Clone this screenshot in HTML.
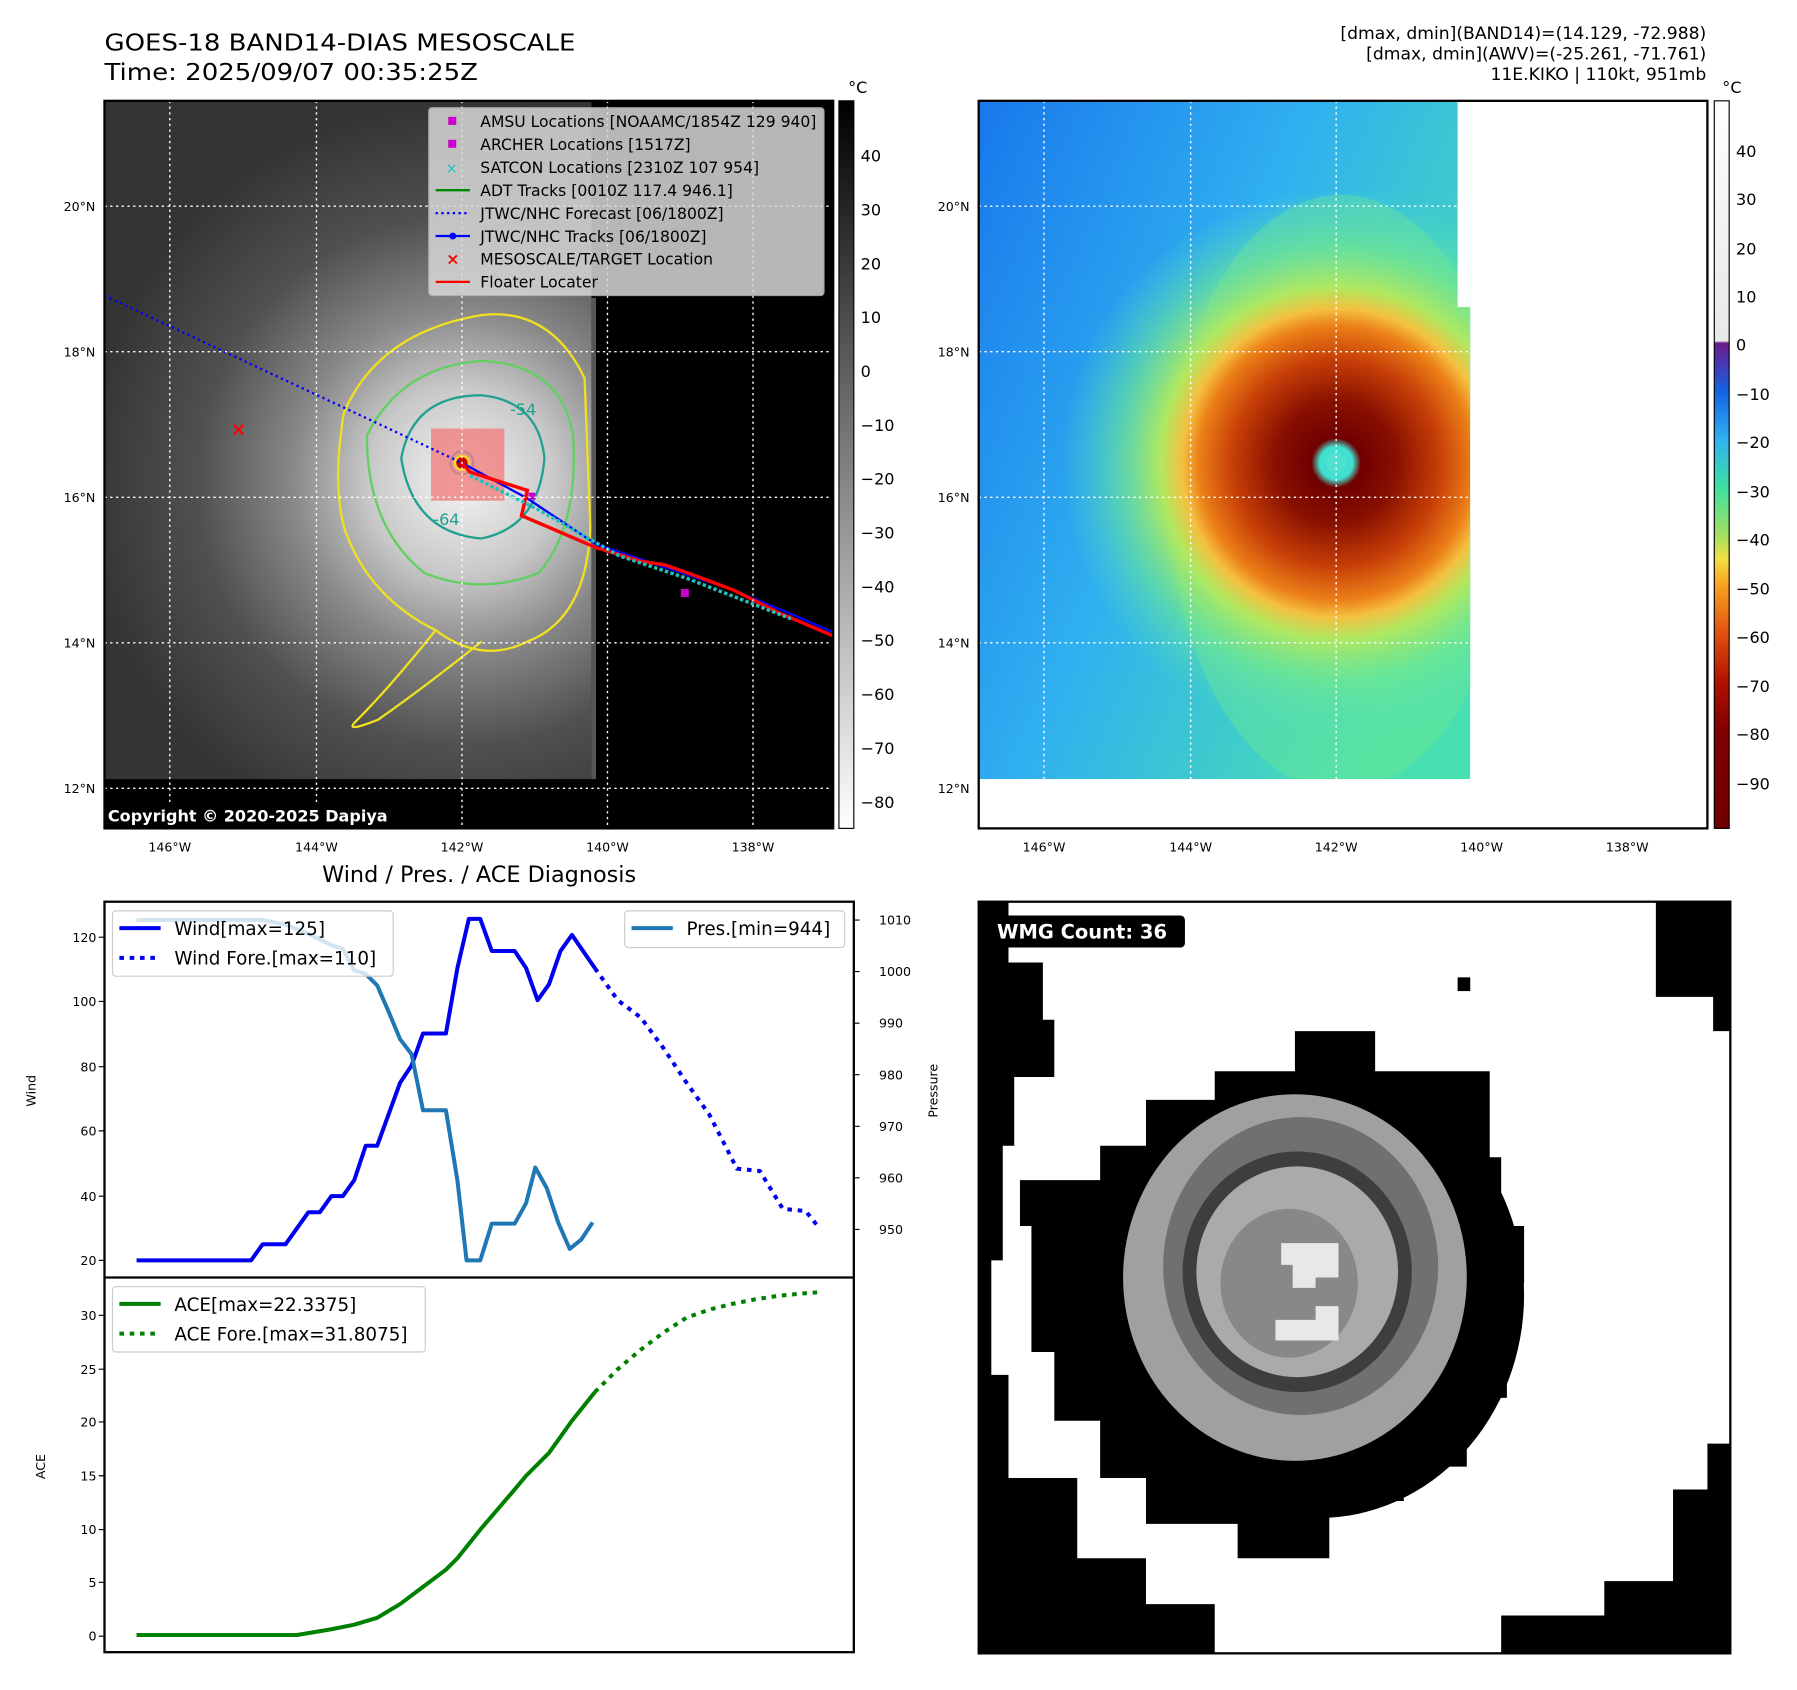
<!DOCTYPE html>
<html><head><meta charset="utf-8"><style>
html,body{margin:0;padding:0;background:#fff}
svg{display:block}
text{font-family:"DejaVu Sans","Liberation Sans",sans-serif}
</style></head><body>
<svg width="1797" height="1690" viewBox="0 0 1568 1475" xmlns="http://www.w3.org/2000/svg">
<defs>
<linearGradient id="cb1" x1="0" y1="0" x2="0" y2="1"><stop offset="0" stop-color="#000"/><stop offset="1" stop-color="#fff"/></linearGradient>
<linearGradient id="cb2" x1="0" y1="0" x2="0" y2="1">
<stop offset="0" stop-color="#fff"/><stop offset="0.33" stop-color="#e8e8e8"/>
<stop offset="0.333" stop-color="#6a1a8a"/><stop offset="0.4" stop-color="#1464e6"/>
<stop offset="0.467" stop-color="#30b4f0"/><stop offset="0.533" stop-color="#40e0a0"/>
<stop offset="0.6" stop-color="#a8e060"/><stop offset="0.63" stop-color="#f4e040"/>
<stop offset="0.667" stop-color="#f8a020"/><stop offset="0.733" stop-color="#e05010"/>
<stop offset="0.8" stop-color="#b01000"/><stop offset="0.867" stop-color="#800000"/>
<stop offset="1" stop-color="#700000"/></linearGradient>
<radialGradient id="g1" cx="403" cy="420" r="330" gradientUnits="userSpaceOnUse">
<stop offset="0" stop-color="#f4f4f4"/><stop offset="0.25" stop-color="#c8c8c8"/><stop offset="0.45" stop-color="#888"/><stop offset="0.7" stop-color="#505050"/><stop offset="1" stop-color="#343434"/></radialGradient>
<linearGradient id="bg2" x1="0" y1="0" x2="1" y2="0.6"><stop offset="0" stop-color="#1878ec"/><stop offset="0.5" stop-color="#30b0f0"/><stop offset="1" stop-color="#48e0b0"/></linearGradient>
<radialGradient id="g2" cx="1166" cy="404" r="240" gradientUnits="userSpaceOnUse">
<stop offset="0" stop-color="#40e0d0"/><stop offset="0.06" stop-color="#40e0d0"/><stop offset="0.09" stop-color="#700000"/>
<stop offset="0.22" stop-color="#881000"/><stop offset="0.38" stop-color="#c84008"/><stop offset="0.5" stop-color="#ec8018"/>
<stop offset="0.56" stop-color="#f4c040"/><stop offset="0.64" stop-color="#b0e860"/><stop offset="0.8" stop-color="#70e890" stop-opacity="0.6"/><stop offset="1" stop-color="#50e0c0" stop-opacity="0"/></radialGradient>
<clipPath id="c1"><rect x="91" y="88" width="636" height="635"/></clipPath>
<clipPath id="c2"><rect x="854" y="88" width="429" height="592"/></clipPath>
</defs>

<text x="91" y="44" font-size="20" textLength="411" lengthAdjust="spacingAndGlyphs">GOES-18 BAND14-DIAS MESOSCALE</text>
<text x="91" y="70" font-size="20" textLength="326" lengthAdjust="spacingAndGlyphs">Time: 2025/09/07 00:35:25Z</text>
<text x="1489" y="34" font-size="15" text-anchor="end">[dmax, dmin](BAND14)=(14.129, -72.988)</text>
<text x="1489" y="52" font-size="15" text-anchor="end">[dmax, dmin](AWV)=(-25.261, -71.761)</text>
<text x="1489" y="70" font-size="15" text-anchor="end">11E.KIKO | 110kt, 951mb</text>

<!-- MAP 1 -->
<g clip-path="url(#c1)">
<rect x="91" y="88" width="636" height="635" fill="#000"/>
<rect x="91" y="88" width="425" height="592" fill="url(#g1)"/>
<rect x="516" y="260" width="4" height="420" fill="#555"/>
<g fill="none" stroke-width="2">
<path d="M300,360 Q330,290 420,275 Q480,268 510,330 L515,460 Q512,540 460,560 Q420,580 380,550 Q320,520 300,460 Q290,420 300,360Z" stroke="#f0e020"/>
<path d="M380,550 Q340,600 310,630 Q300,640 330,628 Q370,600 420,560" stroke="#f0e020"/>
<path d="M320,380 Q350,320 420,315 Q490,318 500,380 Q505,460 470,500 Q420,520 370,500 Q320,460 320,380Z" stroke="#60d060"/>
<path d="M350,400 Q360,345 420,345 Q470,350 475,400 Q470,460 420,470 Q360,465 350,400Z" stroke="#20a090"/>
<circle cx="403" cy="404" r="10" stroke="#20a0a0"/>
</g>
<rect x="376" y="374" width="64" height="63" fill="#f08080" opacity="0.8"/>
<circle cx="403" cy="404" r="6" fill="#c00" stroke="#f0e020" stroke-width="2"/>
<text x="445" y="362" font-size="14" fill="#20a090">-54</text>
<text x="378" y="458" font-size="14" fill="#20a090">-64</text>
<path d="M91,258 L403,404" stroke="#00f" stroke-width="2" stroke-dasharray="2,3" fill="none"/>
<path d="M403,404 L460,435 L520,475 L580,495 L640,515 L700,540 L727,552" stroke="#00f" stroke-width="2" fill="none"/>
<path d="M403,404 L410,412 L460,428 L455,450 L490,465 L520,478 L560,490 L580,493 L600,500 L640,515 L680,535 L727,555" stroke="#f00" stroke-width="3" fill="none"/>
<path d="M410,415 L470,445 L540,485 L600,505 L690,540" stroke="#20c0c0" stroke-width="3" fill="none" stroke-dasharray="3,2"/>
<rect x="594" y="514" width="7" height="7" fill="#c0c"/>
<rect x="461" y="430" width="6" height="6" fill="#c0c"/>
<text x="208" y="380" font-size="16" fill="#f00" text-anchor="middle" font-weight="bold">×</text>
<g stroke="#fff" stroke-width="1.2" stroke-dasharray="2,3">
<path d="M148,88V723M276,88V723M403,88V723M530,88V723M657,88V723"/>
<path d="M91,180H727M91,307H727M91,434H727M91,561H727M91,688H727"/>
</g>
<rect x="91" y="700" width="270" height="23" fill="#000"/>
<text x="94" y="717" font-size="14" fill="#fff" font-weight="bold">Copyright © 2020-2025 Dapiya</text>
<rect x="374" y="94" width="345" height="164" fill="#d8d8d8" opacity="0.85" stroke="#bbb" rx="3"/>
<g font-size="13.6">
<rect x="391" y="102" width="7" height="7" fill="#c0c"/><text x="419" y="111">AMSU Locations [NOAAMC/1854Z 129 940]</text>
<rect x="391" y="122" width="7" height="7" fill="#c0c"/><text x="419" y="131">ARCHER Locations [1517Z]</text>
<text x="394" y="151" fill="#20c0c0" font-size="12" text-anchor="middle">×</text><text x="419" y="151">SATCON Locations [2310Z 107 954]</text>
<path d="M380,166H410" stroke="#080" stroke-width="2"/><text x="419" y="171">ADT Tracks [0010Z 117.4 946.1]</text>
<path d="M380,186H410" stroke="#00f" stroke-width="2" stroke-dasharray="2,3"/><text x="419" y="191">JTWC/NHC Forecast [06/1800Z]</text>
<path d="M380,206H410" stroke="#00f" stroke-width="2"/><circle cx="395" cy="206" r="3" fill="#00f"/><text x="419" y="211">JTWC/NHC Tracks [06/1800Z]</text>
<text x="395" y="231" fill="#f00" font-size="14" text-anchor="middle" font-weight="bold">×</text><text x="419" y="231">MESOSCALE/TARGET Location</text>
<path d="M380,246H410" stroke="#f00" stroke-width="2"/><text x="419" y="251">Floater Locater</text>
</g>
</g>
<rect x="91" y="88" width="636" height="635" fill="none" stroke="#000" stroke-width="2"/>
<rect x="732" y="88" width="13" height="635" fill="url(#cb1)" stroke="#000"/>
<text x="740" y="81" font-size="14">°C</text>
<g font-size="14"><text x="751" y="141">40</text><text x="751" y="188">30</text><text x="751" y="235">20</text><text x="751" y="282">10</text><text x="751" y="329">0</text><text x="751" y="376">−10</text><text x="751" y="423">−20</text><text x="751" y="470">−30</text><text x="751" y="517">−40</text><text x="751" y="564">−50</text><text x="751" y="611">−60</text><text x="751" y="658">−70</text><text x="751" y="705">−80</text></g>
<g font-size="11" text-anchor="end"><text x="83" y="184">20°N</text><text x="83" y="311">18°N</text><text x="83" y="438">16°N</text><text x="83" y="565">14°N</text><text x="83" y="692">12°N</text></g>
<g font-size="11" text-anchor="middle"><text x="148" y="743">146°W</text><text x="276" y="743">144°W</text><text x="403" y="743">142°W</text><text x="530" y="743">140°W</text><text x="657" y="743">138°W</text></g>

<!-- MAP 2 -->
<rect x="854" y="88" width="636" height="635" fill="#fff"/>
<g clip-path="url(#c2)">
<rect x="854" y="88" width="429" height="592" fill="url(#bg2)"/>
<ellipse cx="1170" cy="430" rx="150" ry="260" fill="#70e890" opacity="0.4"/>
<rect x="854" y="88" width="429" height="592" fill="url(#g2)"/>
<circle cx="1166" cy="404" r="9" fill="#50e0d0"/>
</g>
<rect x="1272" y="88" width="11" height="180" fill="#fff"/>
<g stroke="#fff" stroke-width="1.2" stroke-dasharray="2,3">
<path d="M911,88V723M1039,88V723M1166,88V723M1293,88V723M1420,88V723"/>
<path d="M854,180H1490M854,307H1490M854,434H1490M854,561H1490M854,688H1490"/>
</g>
<rect x="854" y="88" width="636" height="635" fill="none" stroke="#000" stroke-width="2"/>
<rect x="1496" y="88" width="13" height="635" fill="url(#cb2)" stroke="#000"/>
<text x="1503" y="81" font-size="14">°C</text>
<g font-size="14"><text x="1515" y="137">40</text><text x="1515" y="179">30</text><text x="1515" y="222">20</text><text x="1515" y="264">10</text><text x="1515" y="306">0</text><text x="1515" y="349">−10</text><text x="1515" y="391">−20</text><text x="1515" y="434">−30</text><text x="1515" y="476">−40</text><text x="1515" y="519">−50</text><text x="1515" y="561">−60</text><text x="1515" y="604">−70</text><text x="1515" y="646">−80</text><text x="1515" y="689">−90</text></g>
<g font-size="11" text-anchor="end"><text x="846" y="184">20°N</text><text x="846" y="311">18°N</text><text x="846" y="438">16°N</text><text x="846" y="565">14°N</text><text x="846" y="692">12°N</text></g>
<g font-size="11" text-anchor="middle"><text x="911" y="743">146°W</text><text x="1039" y="743">144°W</text><text x="1166" y="743">142°W</text><text x="1293" y="743">140°W</text><text x="1420" y="743">138°W</text></g>

<!-- Diagnosis -->
<text x="418" y="770" font-size="19.5" text-anchor="middle">Wind / Pres. / ACE Diagnosis</text>
<rect x="91" y="787" width="654" height="655" fill="#fff" stroke="#000" stroke-width="2"/>
<path d="M91,1115H745" stroke="#000" stroke-width="2"/>
<g font-size="11" text-anchor="end"><text x="84" y="822">120</text><text x="84" y="878">100</text><text x="84" y="935">80</text><text x="84" y="991">60</text><text x="84" y="1048">40</text><text x="84" y="1104">20</text>
<text x="84" y="1152">30</text><text x="84" y="1199">25</text><text x="84" y="1245">20</text><text x="84" y="1292">15</text><text x="84" y="1339">10</text><text x="84" y="1385">5</text><text x="84" y="1432">0</text></g>
<g font-size="11"><text x="767" y="807">1010</text><text x="767" y="852">1000</text><text x="767" y="897">990</text><text x="767" y="942">980</text><text x="767" y="987">970</text><text x="767" y="1032">960</text><text x="767" y="1077">950</text></g>
<g stroke="#000"><path d="M86,818h5M86,874h5M86,931h5M86,987h5M86,1044h5M86,1100h5M86,1148h5M86,1195h5M86,1241h5M86,1288h5M86,1335h5M86,1381h5M86,1428h5"/><path d="M745,803h5M745,848h5M745,893h5M745,938h5M745,983h5M745,1028h5M745,1073h5"/></g>
<text transform="translate(31,952) rotate(-90)" font-size="11" text-anchor="middle">Wind</text>
<text transform="translate(39,1280) rotate(-90)" font-size="11" text-anchor="middle">ACE</text>
<text transform="translate(818,952) rotate(-90)" font-size="11" text-anchor="middle">Pressure</text>
<g fill="none" stroke-width="3.5" stroke-linejoin="round">
<path d="M119,1100L219,1100L229,1086L249,1086L269,1058L279,1058L289,1044L299,1044L309,1030L319,1000L329,1000L349,945L359,930L369,902L389,902L399,845L409,802L419,802L429,830L449,830L459,845L469,873L479,859L489,830L499,816L519,845" stroke="#0000f0"/>
<path d="M519,845L539,873L559,888L579,915L599,945L619,973L643,1020L663,1022L683,1055L703,1057L715,1072" stroke="#0000f0" stroke-dasharray="4,5"/>
<path d="M119,803L229,803L249,807L269,815L289,825L299,828L309,847L319,850L329,860L339,883L349,907L359,920L369,969L389,969L399,1030L407,1100L419,1100L429,1068L449,1068L459,1050L467,1019L477,1037L487,1067L497,1090L507,1082L517,1067" stroke="#1f77b4"/>
<path d="M119,1427L259,1427L289,1422L309,1418L329,1412L349,1400L369,1385L389,1370L399,1360L419,1335L449,1300L459,1288L479,1268L499,1240L519,1215" stroke="#008000"/>
<path d="M519,1215L539,1195L559,1178L579,1163L599,1150L619,1143L639,1138L659,1134L679,1131L699,1129L713,1128" stroke="#008000" stroke-dasharray="4,5"/>
</g>
<g font-size="16">
<rect x="98" y="795" width="245" height="57" fill="#fff" fill-opacity="0.8" stroke="#ccc" rx="3"/>
<path d="M104,810H140" stroke="#0000f0" stroke-width="3.5"/><text x="152" y="816">Wind[max=125]</text>
<path d="M104,836H140" stroke="#0000f0" stroke-width="3.5" stroke-dasharray="4,5"/><text x="152" y="842">Wind Fore.[max=110]</text>
<rect x="545" y="795" width="192" height="32" fill="#fff" fill-opacity="0.8" stroke="#ccc" rx="3"/>
<path d="M551,810H587" stroke="#1f77b4" stroke-width="3.5"/><text x="599" y="816">Pres.[min=944]</text>
<rect x="98" y="1123" width="273" height="57" fill="#fff" fill-opacity="0.8" stroke="#ccc" rx="3"/>
<path d="M104,1138H140" stroke="#008000" stroke-width="3.5"/><text x="152" y="1144">ACE[max=22.3375]</text>
<path d="M104,1164H140" stroke="#008000" stroke-width="3.5" stroke-dasharray="4,5"/><text x="152" y="1170">ACE Fore.[max=31.8075]</text>
</g>

<!-- WMG -->
<rect x="854" y="787" width="656" height="656" fill="#fff"/>
<g fill="#000">
<path d="M854,787H880V840H910V890H920V940H885V1000H875V1100H865V1200H880V1290H940V1360H1000V1400H1060V1443H854Z"/>
<path d="M1445,787H1510V900H1495V870H1445Z"/>
<path d="M1310,1443V1410H1400V1380H1460V1300H1490V1260H1510V1443Z"/>
<rect x="1272" y="853" width="11" height="12"/>
<ellipse cx="1150" cy="1130" rx="180" ry="195"/>
<path d="M1000,960H1060V935H1130V900H1200V935H1300V1010H1310V1070H1330V1120H1315V1220H1280V1280H1225V1310H1160V1360H1080V1330H1000V1290H960V1240H920V1180H900V1070H890V1030H960V1000H1000Z"/>
</g>
<ellipse cx="1130" cy="1115" rx="150" ry="160" fill="#a0a0a0"/>
<ellipse cx="1135" cy="1105" rx="120" ry="130" fill="#707070"/>
<ellipse cx="1132" cy="1110" rx="100" ry="105" fill="#3e3e3e"/>
<ellipse cx="1132" cy="1110" rx="88" ry="92" fill="#aaa"/>
<ellipse cx="1125" cy="1120" rx="60" ry="65" fill="#888"/>
<path d="M1118,1085h50v30h-20v25h20v30h-55v-18h35v-28h-20v-20h-10z" fill="#e8e8e8"/>
<rect x="854" y="787" width="656" height="656" fill="none" stroke="#000" stroke-width="2"/>
<rect x="862" y="799" width="172" height="28" rx="4" fill="#000"/>
<text x="870" y="819" font-size="17" fill="#fff" font-weight="bold">WMG Count: 36</text>
</svg>
</body></html>
